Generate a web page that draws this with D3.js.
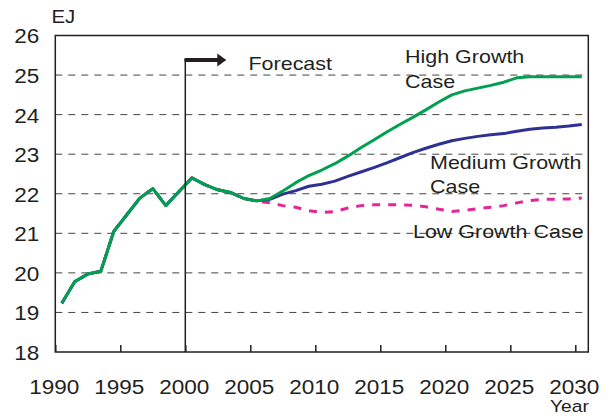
<!DOCTYPE html>
<html>
<head>
<meta charset="utf-8">
<script src="https://cdn.jsdelivr.net/npm/d3@7"></script>
<style>
  html, body { margin: 0; padding: 0; background: #fff; }
  svg { display: block; }
  text { font-family: "Liberation Sans", Arial, sans-serif; fill: #231f20; }
</style>
</head>
<body>
<div id="chart"></div>
<script>
// ---- data ----
const histYears = d3.range(1990, 2006);
const histValues = [19.23, 19.78, 19.97, 20.04, 21.05, 21.47, 21.89, 22.13, 21.70, 22.05, 22.40, 22.23, 22.10, 22.03, 21.88, 21.82];

const forecastYears = d3.range(2006, 2031);
const highGrowth = [21.88, 22.07, 22.28, 22.46, 22.60, 22.76, 22.95, 23.16, 23.36, 23.56, 23.75, 23.93, 24.12, 24.32, 24.50, 24.60, 24.67, 24.74, 24.82, 24.93, 24.96, 24.96, 24.96, 24.96, 24.96];
const mediumGrowth = [21.86, 21.99, 22.08, 22.19, 22.24, 22.32, 22.44, 22.55, 22.66, 22.78, 22.91, 23.04, 23.15, 23.25, 23.34, 23.40, 23.45, 23.49, 23.52, 23.58, 23.63, 23.66, 23.68, 23.71, 23.75];
const lowGrowth = [21.77, 21.70, 21.66, 21.57, 21.53, 21.55, 21.64, 21.70, 21.72, 21.72, 21.72, 21.71, 21.67, 21.61, 21.55, 21.58, 21.62, 21.66, 21.70, 21.77, 21.83, 21.86, 21.86, 21.87, 21.89];

const xTicks = [1990, 1995, 2000, 2005, 2010, 2015, 2020, 2025, 2030];
const yTicks = [18, 19, 20, 21, 22, 23, 24, 25, 26];
const forecastStart = 2000;
const seriesLabels = {
  high: ["High Growth", "Case"],
  medium: ["Medium Growth", "Case"],
  low: ["Low Growth Case"]
};

// ---- layout ----
const W = 616, H = 416;
const mLeft = 55.3, mRight = 588.3, mTop = 35.5, mBottom = 352;
const SX = 1.13; // horizontal stretch of the lettering in the original

const svg = d3.select("#chart").append("svg").attr("width", W).attr("height", H);

const x = d3.scaleLinear().domain([1990, 2031]).range([mLeft, mRight]);
const y = d3.scaleLinear().domain([18, 26]).range([mBottom, mTop]);

// gridlines
svg.append("g").selectAll("line").data(yTicks.filter(v => v > 18 && v < 26)).join("line")
  .attr("x1", mLeft).attr("x2", mRight)
  .attr("y1", d => y(d)).attr("y2", d => y(d))
  .attr("stroke", "#444").attr("stroke-width", 1).attr("stroke-dasharray", "7,6");

// series
function build(years, vals) { return years.map((yr, i) => ({ yr, v: vals[i] })); }
const hist = build(histYears, histValues);
const lowData = hist.concat(build(forecastYears, lowGrowth));
const medData = hist.concat(build(forecastYears, mediumGrowth));
const highData = hist.concat(build(forecastYears, highGrowth));

const line = d3.line().x(d => x(d.yr + 0.5)).y(d => y(d.v));

svg.append("path").datum(lowData).attr("d", line)
  .attr("fill", "none").attr("stroke", "#e5259a").attr("stroke-width", 3)
  .attr("stroke-dasharray", "8,8");
svg.append("path").datum(medData).attr("d", line)
  .attr("fill", "none").attr("stroke", "#2e3192").attr("stroke-width", 3)
  .attr("stroke-linejoin", "round");
svg.append("path").datum(highData).attr("d", line)
  .attr("fill", "none").attr("stroke", "#00a04f").attr("stroke-width", 3)
  .attr("stroke-linejoin", "round");

// text helper (stretched horizontally)
function label(lines, x0, y0, lh, fs, anchor) {
  const t = svg.append("text").attr("font-size", fs)
    .attr("transform", `translate(${x0},${y0}) scale(${SX},1)`)
    .attr("text-anchor", anchor || "start");
  lines.forEach((s, i) => t.append("tspan").attr("x", 0).attr("y", i * lh).text(s));
  return t;
}

// forecast marker
const fx = x(forecastStart);
svg.append("line").attr("x1", fx).attr("x2", fx).attr("y1", mBottom).attr("y2", 59)
  .attr("stroke", "#231f20").attr("stroke-width", 1.5);
svg.append("line").attr("x1", fx - 0.75).attr("x2", fx + 34).attr("y1", 60).attr("y2", 60)
  .attr("stroke", "#231f20").attr("stroke-width", 4);
svg.append("path")
  .attr("d", `M${fx + 32},53.5 L${fx + 41},60 L${fx + 32},66.5 Z`)
  .attr("fill", "#231f20");
label(["Forecast"], 248.5, 70, 0, 19);

// frame
svg.append("rect").attr("x", mLeft).attr("y", mTop).attr("width", mRight - mLeft).attr("height", mBottom - mTop)
  .attr("fill", "none").attr("stroke", "#231f20").attr("stroke-width", 1.5);

// x axis
const xAxis = d3.axisBottom(x).tickValues(xTicks).tickSize(-7).tickPadding(14).tickFormat(d3.format("d"));
const gx = svg.append("g").attr("transform", `translate(0,${mBottom})`).call(xAxis);
gx.select(".domain").remove();
gx.selectAll(".tick line").attr("stroke", "#231f20").attr("stroke-width", 1.5);
gx.selectAll(".tick text").attr("font-size", 20.5).attr("fill", "#231f20")
  .attr("font-family", "Liberation Sans, Arial, sans-serif")
  .attr("dy", null).attr("y", 0)
  .attr("transform", `translate(-1.5,41.5) scale(1.1,1)`);

// y axis
const yAxis = d3.axisLeft(y).tickValues(yTicks).tickSize(0).tickPadding(16);
const gy = svg.append("g").attr("transform", `translate(${mLeft},0)`).call(yAxis);
gy.select(".domain").remove();
gy.selectAll(".tick text").attr("font-size", 20.5).attr("fill", "#231f20")
  .attr("font-family", "Liberation Sans, Arial, sans-serif").attr("dy", "0.36em")
  .attr("x", 0).attr("transform", `translate(-16,0) scale(1.1,1)`);

// axis titles
label(["EJ"], 51.5, 23, 0, 18);
label(["Year"], 550, 411.5, 0, 17);

// series labels
label(seriesLabels.high, 405, 62.5, 26, 19);
label(seriesLabels.medium, 430, 168.5, 25, 19);
label(seriesLabels.low, 413, 237.5, 25, 19);
</script>
</body>
</html>
